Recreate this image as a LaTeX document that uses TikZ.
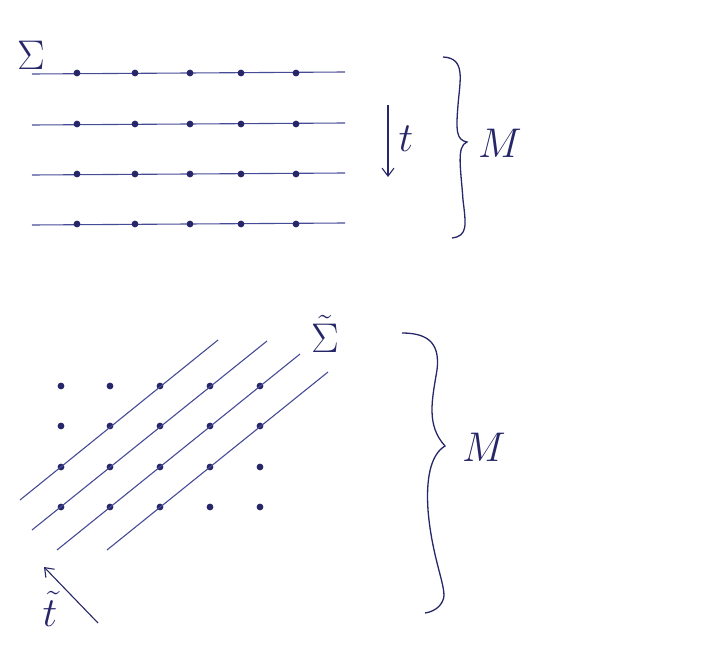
\documentclass[tikz,border=0pt]{standalone}
\usetikzlibrary{arrows.meta}
\definecolor{ink}{RGB}{38,38,105}
\definecolor{pen}{RGB}{70,75,150}
\tikzset{
  leaf/.style={pen,line width=1.1pt},
  brc/.style={ink,line width=1.3pt},
  flow/.style={ink,line width=1.1pt,-{Straight Barb[length=8pt,width=12pt]}},
  lbl/.style={ink,inner sep=0pt,font=\huge,scale=2}
}
\begin{document}
\begin{tikzpicture}[x=1pt,y=-1pt]
  \useasboundingbox (0,0) rectangle (704,647);
  % upper picture: leaves Sigma_t
  \foreach \y in {73,124,174,224}
    \draw[leaf] (32,\y+1)--(345,\y-1);
  \foreach \x in {77,135,190,241,296}
    \foreach \y in {73,124,174,224}
      \fill[ink] (\x,\y) circle (3.4);
  \node[lbl] (sig) at (31,55) {$\Sigma$};
  \coordinate (ttop) at (388,105);
  \coordinate (tbot) at (388,177);
  \draw[flow] (ttop)--(tbot);
  \node[lbl] (t) at (406,139) {$t$};
  \draw[brc] (443,57) .. controls (466,58) and (460,80) .. (458,105)
    .. controls (456,130) and (456,140) .. (467,142)
    .. controls (456,146) and (461,170) .. (463,200)
    .. controls (466,225) and (468,236) .. (452,238);
  \node[lbl] (M) at (500,143) {$M$};
  % lower picture: tilted leaves
  \foreach \x in {61,110,160,210,260}
    \foreach \y in {386,426,467,507}
      \fill[ink] (\x,\y) circle (3.4);
  \foreach \a/\b/\c/\d in {20/500/218/340,32/530/267/341,57/550/300/354,107/550/328/372}
    \draw[leaf] (\a,\b)--(\c,\d);
  \node[lbl] (tsig) at (325,334) {$\tilde\Sigma$};
  \coordinate (ttail) at (98,623);
  \coordinate (thead) at (44,567);
  \draw[flow] (ttail)--(thead);
  \node[lbl] (tt) at (50,609) {$\tilde t$};
  \draw[brc] (402,333) .. controls (430,333) and (440,345) .. (437,370)
    .. controls (432,400) and (426,425) .. (445,446)
    .. controls (430,455) and (426,480) .. (428,510)
    .. controls (432,560) and (448,590) .. (443,600)
    .. controls (440,608) and (432,612) .. (425,613);
  \node[lbl] (M2) at (484,447) {$M$};
\end{tikzpicture}
\end{document}
